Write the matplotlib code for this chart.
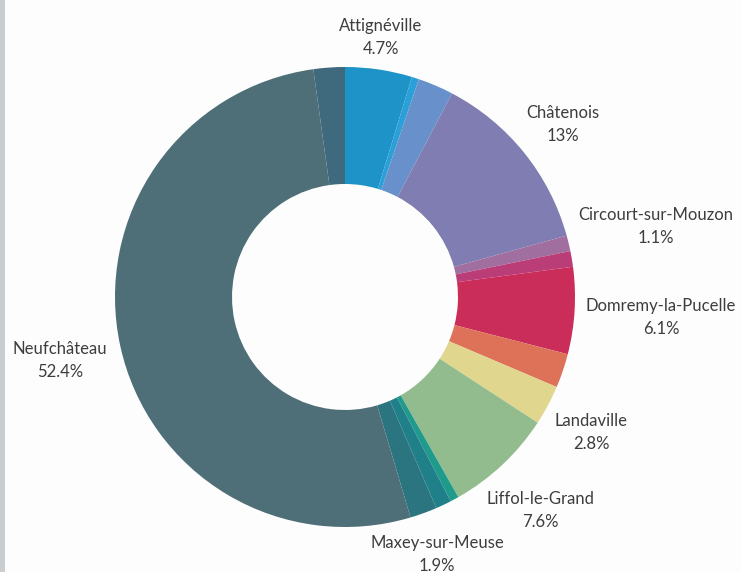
import matplotlib
matplotlib.use("Agg")
import matplotlib.pyplot as plt
from matplotlib.patches import Rectangle

# Data (clockwise from 12 o'clock)
names = ["Attignéville", "", "", "Châtenois", "Circourt-sur-Mouzon", "",
         "Domremy-la-Pucelle", "", "Landaville", "Liffol-le-Grand", "", "",
         "Maxey-sur-Meuse", "Neufchâteau", ""]
values = [4.7, 0.5, 2.5, 13.0, 1.1, 1.1, 6.1, 2.4, 2.8, 7.6, 0.6, 1.1, 1.9, 52.4, 2.2]
pct_labels = ["4.7%", "", "", "13%", "1.1%", "", "6.1%", "", "2.8%", "7.6%", "", "",
              "1.9%", "52.4%", ""]
colors = ["#1e93c7", "#2a9fd8", "#6890cb", "#7f7db1", "#a06f9f", "#ba3d77",
          "#cb2d5b", "#dd7259", "#e0d68d", "#93bc8e", "#1f9a8b", "#208089",
          "#2b7581", "#4f6f78", "#3f6a7d"]

# label text anchor positions (pixel coords, y from top)
label_pos = {
    "Attignéville": (381, 26),
    "Châtenois": (563, 113),
    "Circourt-sur-Mouzon": (656, 215),
    "Domremy-la-Pucelle": (661, 306),
    "Landaville": (591, 421),
    "Liffol-le-Grand": (540, 499),
    "Maxey-sur-Meuse": (437, 543),
    "Neufchâteau": (60, 349),
}

W, H = 741, 572
fig = plt.figure(figsize=(W / 100, H / 100), dpi=100)
fig.patch.set_facecolor("#fdfdfd")
ax = fig.add_axes([0, 0, 1, 1])

cx, cy, R, r_in = 345, H - 297, 230, 113
ax.pie(values, colors=colors, startangle=90, counterclock=False,
       radius=R, center=(cx, cy), frame=True,
       wedgeprops=dict(width=R - r_in, linewidth=0))
ax.set_xlim(0, W)
ax.set_ylim(0, H)
ax.set_aspect("equal")
ax.axis("off")

ax.add_patch(Rectangle((0, 0), 5, H, facecolor="#c9cdd0", edgecolor="none", zorder=5))

for n, p in zip(names, pct_labels):
    if n in label_pos:
        x, y = label_pos[n]
        ax.text(x, H - y, n, ha="center", va="center", fontsize=12,
                family="Lato", color="#3d3d3d")
        ax.text(x, H - y - 23, p, ha="center", va="center", fontsize=12,
                family="Lato", color="#3d3d3d")

fig.savefig("out.png", dpi=100, facecolor=fig.get_facecolor())
